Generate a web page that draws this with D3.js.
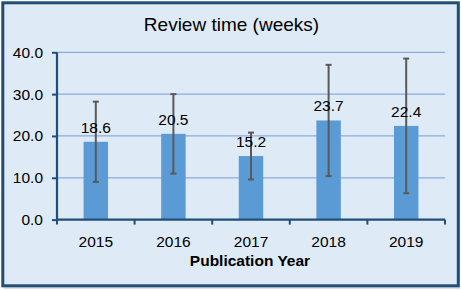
<!DOCTYPE html>
<html>
<head>
<meta charset="utf-8">
<script src="https://cdn.jsdelivr.net/npm/d3@7"></script>
<style>
html,body{margin:0;padding:0;background:#fff;}
svg{display:block;}
text{font-family:"Liberation Sans",Arial,sans-serif;fill:#000;}
</style>
</head>
<body>
<svg id="chart" width="461" height="291"></svg>
<script>
const categories = ["2015", "2016", "2017", "2018", "2019"];
const values = [18.6, 20.5, 15.2, 23.7, 22.4];
const errors = [9.6, 9.5, 5.6, 13.3, 16.1];
const yTicks = [0, 10, 20, 30, 40];
const title = "Review time (weeks)";
const xTitle = "Publication Year";

const svg = d3.select("#chart");

// shadow + frame
svg.append("rect").attr("x", 4).attr("y", 4).attr("width", 456).attr("height", 285)
  .attr("fill", "#c8c8c8").attr("opacity", 0.6);
svg.append("rect").attr("x", 2.8).attr("y", 2.8).attr("width", 455.5).attr("height", 283)
  .attr("fill", "#DEEAF6").attr("stroke", "#1F4E79").attr("stroke-width", 3);

const pLeft = 57, pRight = 445, pTop = 52.3, pBottom = 219.6;
const x = d3.scaleBand().domain(categories).range([pLeft, pRight]).paddingInner(0.685).paddingOuter(0.3425);
const y = d3.scaleLinear().domain([0, 40]).range([pBottom, pTop]);

// gridlines
svg.append("g").selectAll("line").data(yTicks.filter(d => d > 0)).join("line")
  .attr("x1", pLeft).attr("x2", pRight)
  .attr("y1", d => y(d)).attr("y2", d => y(d))
  .attr("stroke", "#8EAADB").attr("stroke-width", 1.2);

// bars
svg.append("g").selectAll("rect").data(values).join("rect")
  .attr("x", (d, i) => x(categories[i]))
  .attr("width", x.bandwidth())
  .attr("y", d => y(d))
  .attr("height", d => y(0) - y(d))
  .attr("fill", "#5B9BD5");

// error bars
const eb = svg.append("g").attr("stroke", "#595959").attr("stroke-width", 2);
values.forEach((v, i) => {
  const cx = x(categories[i]) + x.bandwidth() / 2;
  const y1 = y(v + errors[i]), y2 = y(v - errors[i]);
  eb.append("line").attr("x1", cx).attr("x2", cx).attr("y1", y1).attr("y2", y2);
  eb.append("line").attr("x1", cx - 3).attr("x2", cx + 3).attr("y1", y1).attr("y2", y1);
  eb.append("line").attr("x1", cx - 3).attr("x2", cx + 3).attr("y1", y2).attr("y2", y2);
});

// data labels
svg.append("g").selectAll("text").data(values).join("text")
  .attr("x", (d, i) => x(categories[i]) + x.bandwidth() / 2)
  .attr("y", d => y(d) - 9)
  .attr("text-anchor", "middle")
  .attr("font-size", "15.5px")
  .text(d => d.toFixed(1));

// y axis
const yAxis = svg.append("g").attr("transform", `translate(${pLeft},0)`)
  .call(d3.axisLeft(y).tickValues(yTicks).tickFormat(d => d.toFixed(1)).tickSize(5).tickPadding(9));
yAxis.select(".domain").attr("stroke", "#1F4E79").attr("stroke-width", 2.2).attr("d", `M0,${pTop}V${pBottom}`);
yAxis.selectAll(".tick line").attr("stroke", "#1F4E79").attr("stroke-width", 2);
yAxis.selectAll(".tick text").attr("font-size", "15.5px").attr("font-family", "Liberation Sans, Arial, sans-serif").attr("fill", "#000");

// x axis
const xEdges = d3.scaleLinear().domain([0, categories.length]).range([pLeft, pRight]);
const xAxis = svg.append("g").attr("transform", `translate(0,${pBottom})`)
  .call(d3.axisBottom(x).tickSize(0).tickPadding(16));
xAxis.select(".domain").attr("stroke", "#1F4E79").attr("stroke-width", 2.2).attr("d", `M${pLeft},0H${pRight}`);
xAxis.selectAll(".tick text").attr("font-size", "15.5px").attr("font-family", "Liberation Sans, Arial, sans-serif").attr("fill", "#000");
xAxis.append("g").selectAll("line").data(d3.range(categories.length + 1)).join("line")
  .attr("x1", d => xEdges(d)).attr("x2", d => xEdges(d))
  .attr("y1", 0).attr("y2", 5)
  .attr("stroke", "#1F4E79").attr("stroke-width", 2);

// titles
svg.append("text").attr("x", 231.5).attr("y", 31).attr("text-anchor", "middle")
  .attr("font-size", "19px").text(title);
svg.append("text").attr("x", 250).attr("y", 266).attr("text-anchor", "middle")
  .attr("font-size", "15.5px").attr("font-weight", "bold").text(xTitle);
</script>
</body>
</html>
